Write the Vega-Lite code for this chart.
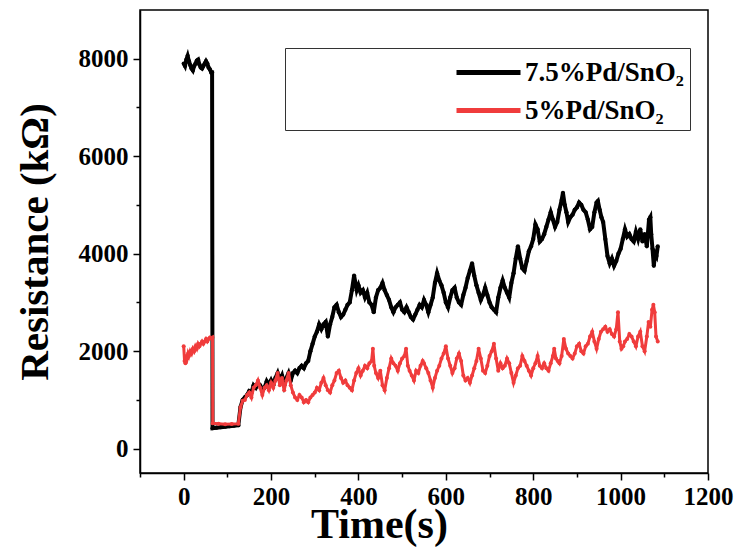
{
  "$schema": "https://vega.github.io/schema/vega-lite/v6.json",
  "width": 568,
  "height": 463,
  "autosize": {"type": "none"},
  "padding": {"left": 140, "top": 10, "right": 32, "bottom": 81},
  "background": "white",
  "config": {
    "view": {"stroke": "black", "strokeWidth": 1.5},
    "axis": {
      "grid": false,
      "domainColor": "black",
      "domainWidth": 1.5,
      "tickColor": "black",
      "tickWidth": 1.5,
      "labelFont": "Liberation Serif",
      "labelFontWeight": "bold",
      "labelFontSize": 25,
      "labelColor": "black",
      "titleFont": "Liberation Serif",
      "titleFontWeight": "bold",
      "titleColor": "black"
    }
  },
  "datasets": {
    "black": [
      {"time":0,"resistance":7900},{"time":3,"resistance":7850},{"time":6,"resistance":7980},{"time":9,"resistance":8060},{"time":12,"resistance":7950},{"time":15,"resistance":7870},{"time":18,"resistance":7800},{"time":21,"resistance":7760},{"time":24,"resistance":7850},{"time":27,"resistance":7900},{"time":30,"resistance":7960},{"time":33,"resistance":7980},{"time":36,"resistance":7880},{"time":39,"resistance":7820},{"time":42,"resistance":7800},{"time":45,"resistance":7850},{"time":48,"resistance":7900},{"time":51,"resistance":7950},{"time":54,"resistance":7900},{"time":57,"resistance":7820},{"time":60,"resistance":7780},{"time":63,"resistance":7720},{"time":65,"resistance":7720},
      {"time":66,"resistance":420},{"time":75,"resistance":430},{"time":85,"resistance":440},{"time":95,"resistance":450},{"time":105,"resistance":460},{"time":115,"resistance":470},{"time":125,"resistance":480},
      {"time":130,"resistance":850},{"time":135,"resistance":1000},{"time":140,"resistance":1050},{"time":145,"resistance":1100},{"time":150,"resistance":1180},{"time":155,"resistance":1150},{"time":160,"resistance":1300},{"time":165,"resistance":1250},{"time":170,"resistance":1350},{"time":175,"resistance":1300},{"time":180,"resistance":1200},{"time":185,"resistance":1250},{"time":190,"resistance":1380},{"time":195,"resistance":1300},{"time":200,"resistance":1400},{"time":205,"resistance":1300},{"time":210,"resistance":1450},{"time":215,"resistance":1550},{"time":220,"resistance":1400},{"time":225,"resistance":1500},{"time":230,"resistance":1300},{"time":235,"resistance":1450},{"time":240,"resistance":1550},{"time":245,"resistance":1400},{"time":250,"resistance":1550},{"time":255,"resistance":1600},{"time":260,"resistance":1550},{"time":265,"resistance":1650},{"time":270,"resistance":1700},{"time":275,"resistance":1650},{"time":280,"resistance":1750},{"time":285,"resistance":1800},{"time":290,"resistance":2000},{"time":295,"resistance":2150},{"time":300,"resistance":2300},{"time":305,"resistance":2400},{"time":310,"resistance":2550},{"time":315,"resistance":2450},{"time":320,"resistance":2550},{"time":325,"resistance":2600},{"time":330,"resistance":2300},{"time":335,"resistance":2550},{"time":340,"resistance":2700},{"time":345,"resistance":2900},{"time":350,"resistance":2950},{"time":355,"resistance":2800},{"time":360,"resistance":2700},{"time":365,"resistance":2750},{"time":370,"resistance":2850},{"time":375,"resistance":2950},{"time":380,"resistance":3000},{"time":385,"resistance":3250},{"time":390,"resistance":3550},{"time":393,"resistance":3400},{"time":396,"resistance":3250},{"time":400,"resistance":3350},{"time":405,"resistance":3200},{"time":410,"resistance":3250},{"time":415,"resistance":3100},{"time":420,"resistance":3200},{"time":425,"resistance":3000},{"time":430,"resistance":2950},{"time":435,"resistance":2800},{"time":440,"resistance":3100},{"time":445,"resistance":3250},{"time":450,"resistance":3300},{"time":455,"resistance":3400},{"time":460,"resistance":3250},{"time":465,"resistance":3150},{"time":470,"resistance":3050},{"time":475,"resistance":2900},{"time":480,"resistance":2800},{"time":485,"resistance":2900},{"time":490,"resistance":2950},{"time":495,"resistance":3000},{"time":500,"resistance":2850},{"time":505,"resistance":2800},{"time":510,"resistance":2900},{"time":515,"resistance":2800},{"time":520,"resistance":2700},{"time":525,"resistance":2650},{"time":530,"resistance":2750},{"time":535,"resistance":2850},{"time":540,"resistance":2950},{"time":545,"resistance":2900},{"time":550,"resistance":3050},{"time":555,"resistance":2950},{"time":560,"resistance":2800},{"time":565,"resistance":2950},{"time":570,"resistance":3100},{"time":575,"resistance":3400},{"time":580,"resistance":3600},{"time":585,"resistance":3450},{"time":590,"resistance":3350},{"time":595,"resistance":3200},{"time":600,"resistance":3000},{"time":605,"resistance":2900},{"time":610,"resistance":3100},{"time":615,"resistance":3250},{"time":620,"resistance":3300},{"time":625,"resistance":3100},{"time":630,"resistance":3000},{"time":635,"resistance":2950},{"time":640,"resistance":3150},{"time":645,"resistance":3300},{"time":650,"resistance":3500},{"time":655,"resistance":3650},{"time":660,"resistance":3800},{"time":665,"resistance":3550},{"time":670,"resistance":3350},{"time":675,"resistance":3200},{"time":680,"resistance":3050},{"time":685,"resistance":3150},{"time":690,"resistance":3300},{"time":695,"resistance":3150},{"time":700,"resistance":3000},{"time":705,"resistance":2900},{"time":710,"resistance":2850},{"time":715,"resistance":2800},{"time":720,"resistance":3100},{"time":725,"resistance":3300},{"time":730,"resistance":3450},{"time":735,"resistance":3300},{"time":740,"resistance":3200},{"time":745,"resistance":3100},{"time":750,"resistance":3400},{"time":755,"resistance":3600},{"time":760,"resistance":3900},{"time":765,"resistance":4150},{"time":770,"resistance":3900},{"time":775,"resistance":3700},{"time":780,"resistance":3650},{"time":785,"resistance":3850},{"time":790,"resistance":4050},{"time":795,"resistance":4150},{"time":800,"resistance":4300},{"time":805,"resistance":4600},{"time":810,"resistance":4500},{"time":815,"resistance":4250},{"time":820,"resistance":4300},{"time":825,"resistance":4400},{"time":830,"resistance":4550},{"time":835,"resistance":4700},{"time":840,"resistance":4850},{"time":845,"resistance":4700},{"time":850,"resistance":4550},{"time":855,"resistance":4650},{"time":860,"resistance":4900},{"time":865,"resistance":5100},{"time":868,"resistance":5250},{"time":872,"resistance":5000},{"time":876,"resistance":4850},{"time":880,"resistance":4650},{"time":885,"resistance":4750},{"time":890,"resistance":4800},{"time":895,"resistance":4900},{"time":900,"resistance":4950},{"time":905,"resistance":5050},{"time":910,"resistance":5000},{"time":915,"resistance":4900},{"time":920,"resistance":4850},{"time":925,"resistance":4700},{"time":930,"resistance":4500},{"time":935,"resistance":4550},{"time":940,"resistance":4850},{"time":945,"resistance":5050},{"time":948,"resistance":5080},{"time":952,"resistance":4900},{"time":956,"resistance":4750},{"time":960,"resistance":4650},{"time":965,"resistance":4300},{"time":970,"resistance":3950},{"time":975,"resistance":3800},{"time":980,"resistance":3900},{"time":985,"resistance":3750},{"time":990,"resistance":3850},{"time":995,"resistance":4000},{"time":1000,"resistance":4100},{"time":1005,"resistance":4300},{"time":1010,"resistance":4500},{"time":1015,"resistance":4350},{"time":1020,"resistance":4400},{"time":1025,"resistance":4300},{"time":1030,"resistance":4250},{"time":1035,"resistance":4450},{"time":1040,"resistance":4300},{"time":1045,"resistance":4500},{"time":1050,"resistance":4250},{"time":1055,"resistance":4400},{"time":1060,"resistance":4150},{"time":1065,"resistance":4700},{"time":1068,"resistance":4750},{"time":1070,"resistance":4400},{"time":1073,"resistance":4100},{"time":1076,"resistance":3750},{"time":1079,"resistance":4000},{"time":1082,"resistance":3950},{"time":1085,"resistance":4150}
    ],
    "red": [
      {"time":0,"resistance":2100},{"time":2,"resistance":1800},{"time":4,"resistance":1750},{"time":6,"resistance":1900},{"time":8,"resistance":1850},{"time":10,"resistance":1950},{"time":12,"resistance":1900},{"time":15,"resistance":2000},{"time":18,"resistance":1950},{"time":21,"resistance":2050},{"time":24,"resistance":2000},{"time":27,"resistance":2100},{"time":30,"resistance":2050},{"time":33,"resistance":2150},{"time":36,"resistance":2100},{"time":39,"resistance":2150},{"time":42,"resistance":2200},{"time":45,"resistance":2150},{"time":48,"resistance":2200},{"time":51,"resistance":2250},{"time":54,"resistance":2200},{"time":57,"resistance":2250},{"time":60,"resistance":2280},{"time":63,"resistance":2260},{"time":66,"resistance":2280},
      {"time":66.5,"resistance":520},{"time":80,"resistance":510},{"time":95,"resistance":500},{"time":110,"resistance":505},{"time":125,"resistance":510},
      {"time":130,"resistance":850},{"time":135,"resistance":980},{"time":140,"resistance":1000},{"time":145,"resistance":1100},{"time":150,"resistance":1150},{"time":155,"resistance":1050},{"time":160,"resistance":1250},{"time":165,"resistance":1300},{"time":170,"resistance":1400},{"time":175,"resistance":1250},{"time":180,"resistance":1100},{"time":185,"resistance":1250},{"time":190,"resistance":1300},{"time":195,"resistance":1200},{"time":200,"resistance":1350},{"time":205,"resistance":1250},{"time":210,"resistance":1400},{"time":215,"resistance":1550},{"time":220,"resistance":1300},{"time":225,"resistance":1450},{"time":230,"resistance":1200},{"time":235,"resistance":1400},{"time":240,"resistance":1550},{"time":245,"resistance":1300},{"time":250,"resistance":1150},{"time":255,"resistance":1050},{"time":260,"resistance":1000},{"time":265,"resistance":1100},{"time":270,"resistance":1050},{"time":275,"resistance":950},{"time":280,"resistance":1000},{"time":285,"resistance":950},{"time":290,"resistance":1050},{"time":295,"resistance":1100},{"time":300,"resistance":1150},{"time":305,"resistance":1250},{"time":310,"resistance":1200},{"time":315,"resistance":1350},{"time":320,"resistance":1450},{"time":325,"resistance":1300},{"time":330,"resistance":1200},{"time":335,"resistance":1150},{"time":340,"resistance":1300},{"time":345,"resistance":1400},{"time":350,"resistance":1550},{"time":355,"resistance":1600},{"time":360,"resistance":1450},{"time":365,"resistance":1350},{"time":370,"resistance":1400},{"time":375,"resistance":1300},{"time":380,"resistance":1250},{"time":385,"resistance":1200},{"time":390,"resistance":1400},{"time":395,"resistance":1550},{"time":400,"resistance":1650},{"time":405,"resistance":1500},{"time":410,"resistance":1600},{"time":415,"resistance":1700},{"time":420,"resistance":1650},{"time":425,"resistance":1750},{"time":430,"resistance":1800},{"time":433,"resistance":2050},{"time":436,"resistance":1700},{"time":440,"resistance":1550},{"time":445,"resistance":1450},{"time":450,"resistance":1600},{"time":455,"resistance":1300},{"time":460,"resistance":1200},{"time":465,"resistance":1450},{"time":470,"resistance":1650},{"time":475,"resistance":1850},{"time":480,"resistance":1750},{"time":485,"resistance":1700},{"time":490,"resistance":1600},{"time":495,"resistance":1750},{"time":500,"resistance":1850},{"time":505,"resistance":1900},{"time":509,"resistance":2050},{"time":513,"resistance":1700},{"time":517,"resistance":1600},{"time":522,"resistance":1500},{"time":527,"resistance":1400},{"time":532,"resistance":1600},{"time":537,"resistance":1550},{"time":542,"resistance":1700},{"time":547,"resistance":1800},{"time":550,"resistance":1750},{"time":555,"resistance":1650},{"time":560,"resistance":1550},{"time":565,"resistance":1400},{"time":570,"resistance":1250},{"time":575,"resistance":1450},{"time":580,"resistance":1600},{"time":585,"resistance":1700},{"time":590,"resistance":1850},{"time":595,"resistance":1950},{"time":600,"resistance":2100},{"time":605,"resistance":1850},{"time":610,"resistance":1700},{"time":615,"resistance":1550},{"time":620,"resistance":1650},{"time":625,"resistance":1850},{"time":630,"resistance":1950},{"time":635,"resistance":1800},{"time":640,"resistance":1500},{"time":645,"resistance":1400},{"time":650,"resistance":1450},{"time":655,"resistance":1350},{"time":660,"resistance":1500},{"time":665,"resistance":1650},{"time":670,"resistance":1800},{"time":675,"resistance":2050},{"time":680,"resistance":1850},{"time":685,"resistance":1600},{"time":690,"resistance":1550},{"time":695,"resistance":1700},{"time":700,"resistance":1900},{"time":705,"resistance":2000},{"time":710,"resistance":2150},{"time":715,"resistance":1850},{"time":720,"resistance":1600},{"time":725,"resistance":1750},{"time":730,"resistance":1650},{"time":735,"resistance":1700},{"time":740,"resistance":1850},{"time":745,"resistance":1750},{"time":750,"resistance":1550},{"time":755,"resistance":1350},{"time":760,"resistance":1500},{"time":765,"resistance":1650},{"time":770,"resistance":1700},{"time":775,"resistance":1900},{"time":780,"resistance":1800},{"time":785,"resistance":1700},{"time":790,"resistance":1600},{"time":795,"resistance":1500},{"time":800,"resistance":1650},{"time":805,"resistance":1750},{"time":810,"resistance":1900},{"time":815,"resistance":1700},{"time":820,"resistance":1650},{"time":825,"resistance":1750},{"time":830,"resistance":1650},{"time":835,"resistance":1600},{"time":840,"resistance":1750},{"time":845,"resistance":1900},{"time":848,"resistance":2050},{"time":852,"resistance":1850},{"time":856,"resistance":1800},{"time":860,"resistance":1750},{"time":865,"resistance":1900},{"time":870,"resistance":2250},{"time":875,"resistance":2050},{"time":880,"resistance":1950},{"time":885,"resistance":1900},{"time":890,"resistance":1850},{"time":895,"resistance":1950},{"time":900,"resistance":2100},{"time":905,"resistance":2150},{"time":910,"resistance":2000},{"time":915,"resistance":1950},{"time":920,"resistance":2100},{"time":925,"resistance":2150},{"time":930,"resistance":2300},{"time":935,"resistance":2400},{"time":940,"resistance":2200},{"time":945,"resistance":2050},{"time":950,"resistance":2250},{"time":955,"resistance":2400},{"time":960,"resistance":2450},{"time":965,"resistance":2500},{"time":970,"resistance":2400},{"time":975,"resistance":2450},{"time":980,"resistance":2350},{"time":985,"resistance":2300},{"time":990,"resistance":2450},{"time":994,"resistance":2800},{"time":998,"resistance":2200},{"time":1002,"resistance":2050},{"time":1006,"resistance":2100},{"time":1010,"resistance":2200},{"time":1015,"resistance":2250},{"time":1020,"resistance":2350},{"time":1025,"resistance":2300},{"time":1030,"resistance":2200},{"time":1035,"resistance":2100},{"time":1040,"resistance":2300},{"time":1045,"resistance":2400},{"time":1050,"resistance":2100},{"time":1055,"resistance":2000},{"time":1060,"resistance":2300},{"time":1064,"resistance":2600},{"time":1068,"resistance":2500},{"time":1072,"resistance":2850},{"time":1075,"resistance":2950},{"time":1078,"resistance":2800},{"time":1081,"resistance":2300},{"time":1085,"resistance":2200}
    ]
  },
  "encoding": {
    "x": {
      "field": "time",
      "type": "quantitative",
      "scale": {"domain": [-100, 1200], "nice": false, "zero": false},
      "axis": {
        "title": "Time(s)",
        "titleFontSize": 42,
        "titleX": 239,
        "titlePadding": -5,
        "values": [-100,0,100,200,300,400,500,600,700,800,900,1000,1100,1200],
        "labelExpr": "datum.value % 200 === 0 ? datum.label : ''",
        "format": "d",
        "tickSize": {"condition": {"test": "datum.value % 200 === 0", "value": 7}, "value": 4},
        "labelPadding": 4,
        "labelFlush": false,
        "labelOverlap": false
      }
    },
    "y": {
      "field": "resistance",
      "type": "quantitative",
      "scale": {"domain": [-500, 9000], "nice": false, "zero": false},
      "axis": {
        "title": "Resistance (kΩ)",
        "titleFontSize": 41,
        "values": [0,1000,2000,3000,4000,5000,6000,7000,8000],
        "labelExpr": "datum.value % 2000 === 0 ? datum.label : ''",
        "format": "d",
        "tickSize": {"condition": {"test": "datum.value % 2000 === 0", "value": 7}, "value": 4},
        "labelPadding": 5,
        "titlePadding": 22,
        "labelFlush": false,
        "labelOverlap": false
      }
    },
    "color": {
      "scale": {"domain": ["7.5%Pd/SnO₂", "5%Pd/SnO₂"], "range": ["#000000", "#f03c3c"]},
      "legend": {
        "orient": "none",
        "legendX": 145,
        "legendY": 38,
        "title": null,
        "strokeColor": "#333333",
        "fillColor": "white",
        "padding": 6,
        "symbolOffset": 179,
        "symbolType": "M-2,0H2",
        "symbolSize": 1024,
        "symbolStrokeWidth": 5,
        "labelFont": "Liberation Serif",
        "labelFontWeight": "bold",
        "labelFontSize": 27,
        "labelColor": "black",
        "labelOffset": 18,
        "labelLimit": 400,
        "rowPadding": 6
      }
    }
  },
  "layer": [
    {
      "data": {"name": "black"},
      "mark": {"type": "line", "strokeWidth": 4, "point": {"filled": true, "size": 18}},
      "encoding": {"color": {"datum": "7.5%Pd/SnO₂"}}
    },
    {
      "data": {"name": "red"},
      "mark": {"type": "line", "strokeWidth": 3, "point": {"filled": true, "size": 16}},
      "encoding": {"color": {"datum": "5%Pd/SnO₂"}}
    }
  ]
}
